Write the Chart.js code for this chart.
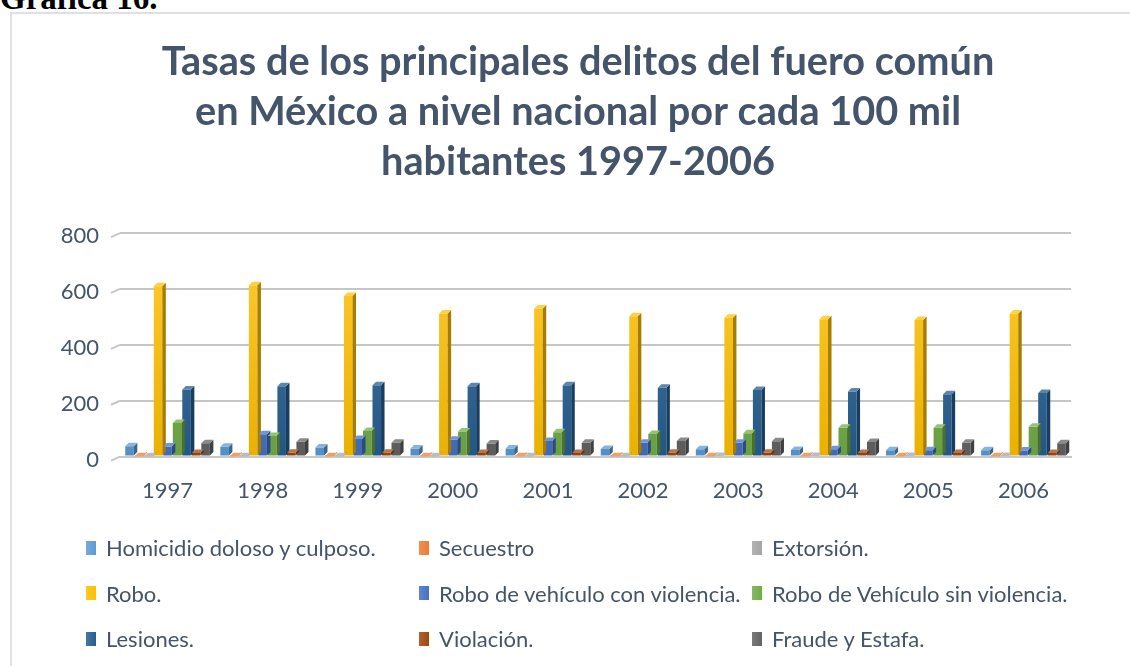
<!DOCTYPE html>
<html>
<head>
<meta charset="utf-8">
<script src="https://cdn.jsdelivr.net/npm/chart.js@4.4.1/dist/chart.umd.min.js"></script>
<style>
body { margin:0; background:#fff; width:1130px; height:666px; overflow:hidden; position:relative; }
#heading { position:absolute; left:0; top:-18px; font:bold 33px/32px "Liberation Serif", serif; color:#000; }
#box { position:absolute; left:10px; top:12px; width:1150px; height:680px; border:2px solid #dde1e7; box-sizing:border-box; }
#wrap { position:absolute; left:10px; top:12px; width:1140px; height:522px; }
#legend { position:absolute; left:86px; top:525px; display:grid; grid-template-columns:333px 333px 330px; grid-auto-rows:45.5px; font:22px Lato, sans-serif; color:#44546A; }
#legend div { display:flex; align-items:center; white-space:nowrap; }
#legend span { display:inline-block; width:10px; height:14px; margin-right:10px; }
</style>
</head>
<body>
<div id="heading">Gráfica 16.</div>
<div id="box"></div>
<div id="wrap"><canvas id="chart"></canvas></div>
<div id="legend"></div>
<script>
// datos
var years = ['1997','1998','1999','2000','2001','2002','2003','2004','2005','2006']
var homicidio    = [37, 35, 33, 29, 29, 27, 26, 24, 23, 23]
var secuestro    = [1, 1, 1, 1, 1, 1, 1, 1, 1, 1]
var extorsion    = [1.5, 1.5, 1.5, 1.5, 1.5, 1.5, 2, 2, 2, 2]
var robo         = [610, 613, 575, 512, 530, 502, 497, 492, 489, 512]
var conViolencia = [36, 80, 63, 60, 56, 50, 50, 26, 23, 22]
var sinViolencia = [120, 74, 92, 90, 87, 81, 84, 103, 103, 107]
var lesiones     = [240, 252, 255, 252, 255, 246, 238, 233, 223, 228]
var violacion    = [13, 14, 14, 13, 13, 14, 14, 13, 13, 13]
var fraude       = [48, 53, 50, 47, 50, 56, 55, 52, 50, 48]
var yTicks = [0, 200, 400, 600, 800]

var names = ['Homicidio doloso y culposo.', 'Secuestro', 'Extorsión.', 'Robo.',
  'Robo de vehículo con violencia.', 'Robo de Vehículo sin violencia.', 'Lesiones.',
  'Violación.', 'Fraude y Estafa.']
var colors = ['#5B9BD5', '#ED7D31', '#A5A5A5', '#FFC000', '#4472C4', '#70AD47', '#255E91', '#9E480E', '#636363']
var series = [homicidio, secuestro, extorsion, robo, conViolencia, sinViolencia, lesiones, violacion, fraude]

function shade(hex, f) {
  var n = parseInt(hex.slice(1), 16)
  var r = (n >> 16) & 255, g = (n >> 8) & 255, b = n & 255
  if (f < 0) { r = r * (1 + f); g = g * (1 + f); b = b * (1 + f) }
  else { r = r + (255 - r) * f; g = g + (255 - g) * f; b = b + (255 - b) * f }
  return 'rgb(' + Math.round(r) + ',' + Math.round(g) + ',' + Math.round(b) + ')'
}

// entradas inclinadas de las lineas de division (pared del fondo)
var wall3d = {
  id: 'wall3d',
  beforeDatasetsDraw: function(chart) {
    var ctx = chart.ctx, y = chart.scales.y, a = chart.chartArea
    ctx.save()
    ctx.strokeStyle = '#c6c6c6'
    ctx.lineWidth = 2
    yTicks.forEach(function(v) {
      var py = y.getPixelForValue(v)
      ctx.beginPath()
      ctx.moveTo(a.left - 9, py + 4)
      ctx.lineTo(a.left, py)
      ctx.stroke()
    })
    ctx.restore()
  }
}

// caras laterales y superiores para imitar el 3D
var bars3d = {
  id: 'bars3d',
  afterDatasetsDraw: function(chart) {
    var ctx = chart.ctx, d = 3.5
    chart.data.datasets.forEach(function(ds, i) {
      chart.getDatasetMeta(i).data.forEach(function(bar) {
        var l = bar.x - bar.width / 2, r = bar.x + bar.width / 2
        ctx.save()
        ctx.fillStyle = shade(colors[i], -0.35)
        ctx.beginPath()
        ctx.moveTo(r, bar.y); ctx.lineTo(r + d, bar.y - d); ctx.lineTo(r + d, bar.base - d); ctx.lineTo(r, bar.base)
        ctx.closePath(); ctx.fill()
        ctx.fillStyle = shade(colors[i], 0.25)
        ctx.beginPath()
        ctx.moveTo(l, bar.y); ctx.lineTo(l + d, bar.y - d); ctx.lineTo(r + d, bar.y - d); ctx.lineTo(r, bar.y)
        ctx.closePath(); ctx.fill()
        ctx.restore()
      })
    })
  }
}

var datasets = series.map(function(s, i) {
  return {
    label: names[i],
    data: s,
    backgroundColor: function(c) {
      var a = c.chart.chartArea
      if (!a) return colors[i]
      var g = c.chart.ctx.createLinearGradient(0, a.bottom, 0, a.top)
      g.addColorStop(0, shade(colors[i], -0.08))
      g.addColorStop(1, shade(colors[i], 0.2))
      return g
    },
    categoryPercentage: 0.9,
    barPercentage: 0.9
  }
})

var chart = new Chart(document.getElementById('chart'), {
  type: 'bar',
  data: { labels: years, datasets: datasets },
  plugins: [wall3d, bars3d],
  options: {
    responsive: true,
    maintainAspectRatio: false,
    animation: false,
    layout: { padding: { left: 0, right: 4, bottom: 9 } },
    plugins: {
      legend: { display: false },
      tooltip: { enabled: false },
      title: {
        display: true,
        text: ['Tasas de los principales delitos del fuero común',
               'en México a nivel nacional por cada 100 mil',
               'habitantes 1997-2006'],
        color: '#44546A',
        font: { family: 'Lato', size: 39.7, weight: 'bold', lineHeight: 1.26 },
        padding: { top: 25, bottom: 46 }
      }
    },
    scales: {
      x: {
        grid: { display: false, drawTicks: false },
        border: { display: true, color: '#c8c8c8', width: 2 },
        ticks: { color: '#44546A', font: { family: 'Lato', size: 22 }, padding: 21 }
      },
      y: {
        min: 0, max: 800,
        afterBuildTicks: function(axis) { axis.ticks = yTicks.map(function(v) { return { value: v } }) },
        afterFit: function(axis) { axis.width = 110 },
        grid: { color: '#c6c6c6', lineWidth: 2, drawTicks: false },
        border: { display: false },
        ticks: { color: '#44546A', font: { family: 'Lato', size: 22 }, padding: 21, labelOffset: 3 }
      },
      // margen derecho vacio, solo para dejar el titulo centrado como en el original
      y2: {
        position: 'right',
        afterFit: function(axis) { axis.width = 75 },
        grid: { display: false, drawTicks: false },
        border: { display: false },
        ticks: { display: false }
      }
    }
  }
})

// leyenda en tres columnas
var leg = document.getElementById('legend')
names.forEach(function(n, i) {
  var item = document.createElement('div')
  item.innerHTML = '<span style="background:linear-gradient(90deg,' + shade(colors[i], 0.15) + ',' + colors[i] + ')"></span>' + n
  leg.appendChild(item)
})
</script>
</body>
</html>
